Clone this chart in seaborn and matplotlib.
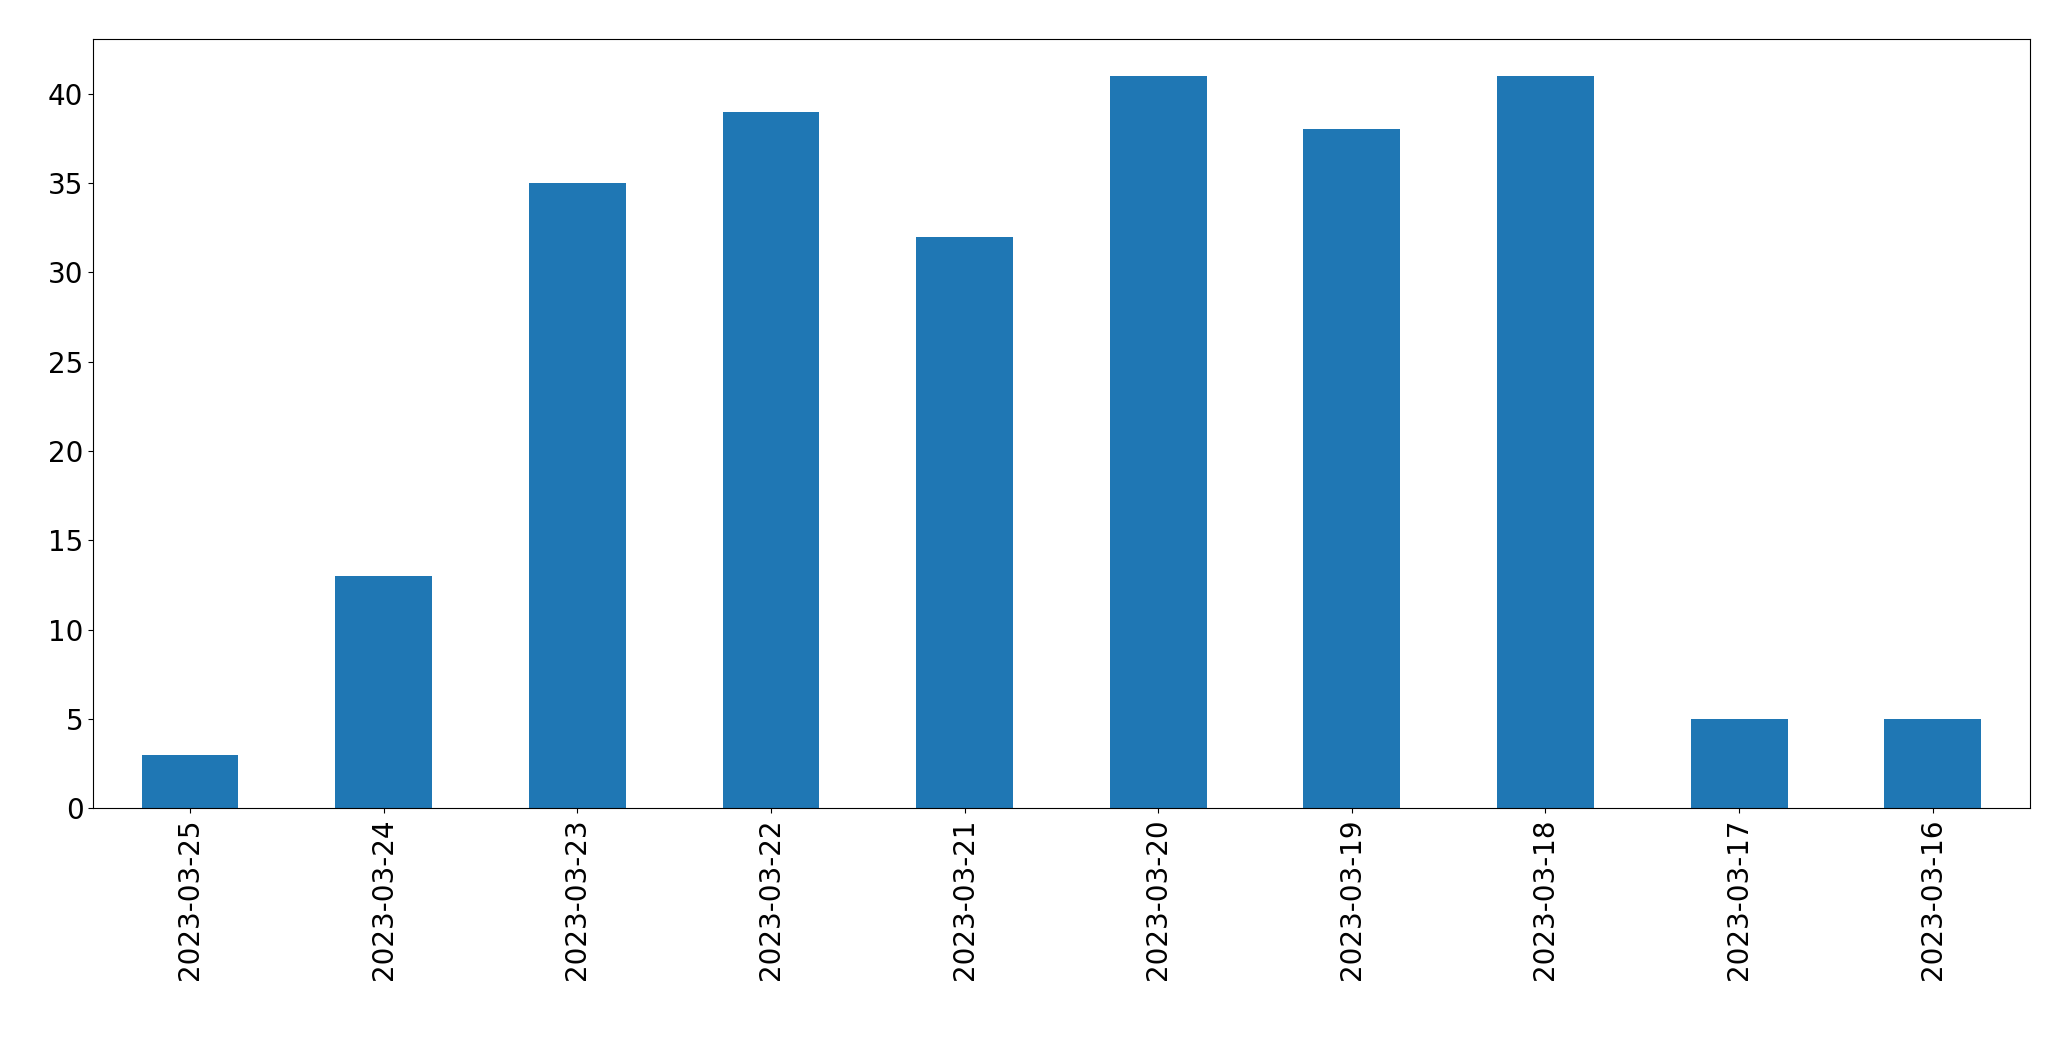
import matplotlib
matplotlib.use('Agg')
import matplotlib.pyplot as plt
import pandas as pd
import seaborn as sns

# 日期与数量
dates = ['2023-03-25', '2023-03-24', '2023-03-23', '2023-03-22', '2023-03-21',
         '2023-03-20', '2023-03-19', '2023-03-18', '2023-03-17', '2023-03-16']
counts = [3, 13, 35, 39, 32, 41, 38, 41, 5, 5]

data = pd.DataFrame({'date': dates, 'count': counts})

fig = plt.figure(figsize=(20.71, 10.61), dpi=100)
ax = fig.add_axes([0.045, 0.238, 0.935, 0.725])
sns.barplot(data=data, x='date', y='count', color='#1f77b4', saturation=1, width=0.5, ax=ax)
ax.set_xlim(-0.5, len(dates) - 0.5)
ax.set_xlabel('')
ax.set_ylabel('')
ax.tick_params(axis='both', labelsize=20)
ax.tick_params(axis='x', labelrotation=90)
fig.savefig('out.png', dpi=100)
